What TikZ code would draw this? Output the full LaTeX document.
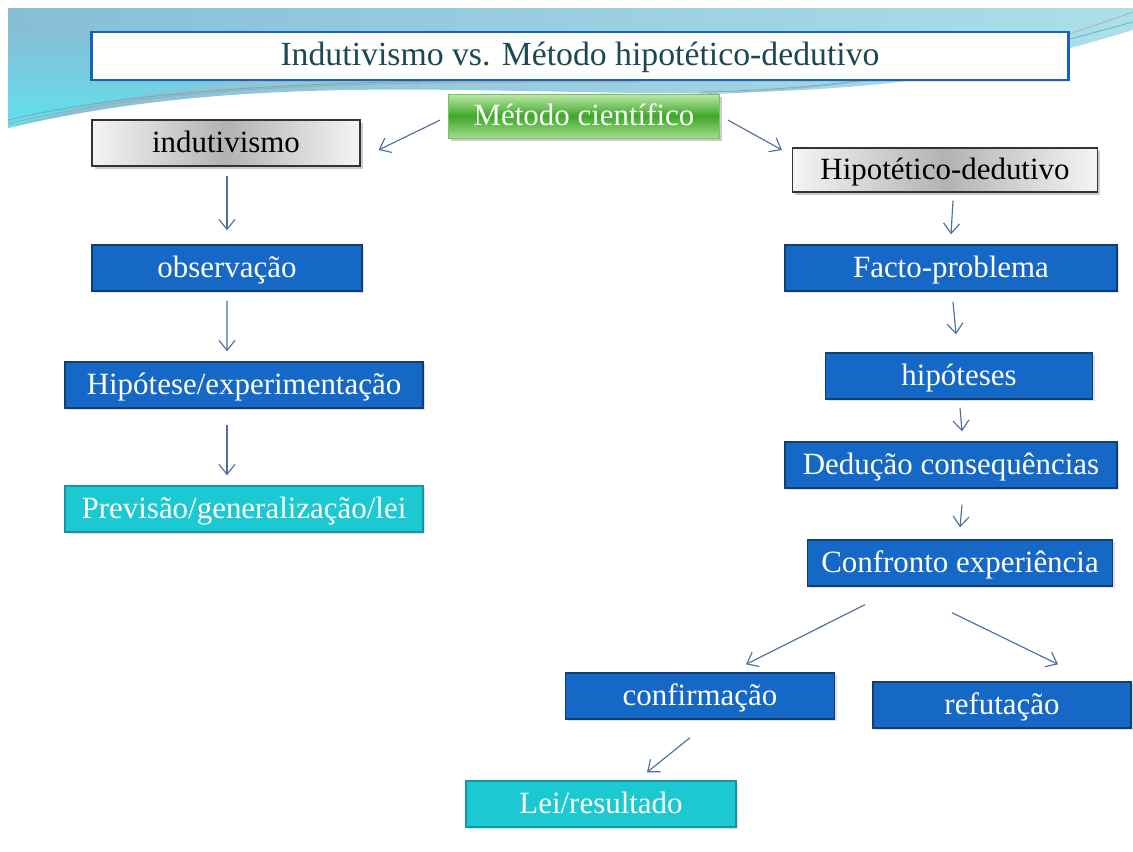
\documentclass[tikz,border=0pt]{standalone}
\usepackage{fontspec}
\setmainfont{Liberation Serif}
\usepackage{tikz}
\usetikzlibrary{arrows.meta,shadows,calc}

\definecolor{azulcaixa}{RGB}{22,104,198}
\definecolor{azulborda}{RGB}{18,62,118}
\definecolor{cianocaixa}{RGB}{28,200,210}
\definecolor{cianoborda}{RGB}{22,150,160}
\definecolor{verdeclaro}{RGB}{190,232,168}
\definecolor{verdeescuro}{RGB}{62,168,42}
\definecolor{tituloborda}{RGB}{20,100,190}
\definecolor{titulotexto}{RGB}{28,72,84}
\definecolor{setacor}{RGB}{74,110,160}
\definecolor{fundoazul}{RGB}{135,190,215}
\definecolor{fundociano}{RGB}{95,225,236}
\definecolor{fundoclaro}{RGB}{170,224,232}

\tikzset{
  caixa/.style={rectangle, minimum height=1.15cm, inner sep=2pt,
    text height=17pt, text depth=4pt,
    font=\fontsize{22}{26}\selectfont},
  azul/.style={caixa, fill=azulcaixa, draw=azulborda, line width=1pt, text=white,
    drop shadow={shadow xshift=1.5pt, shadow yshift=-1.5pt, opacity=0.25}},
  ciano/.style={caixa, fill=cianocaixa, draw=cianoborda, line width=1pt, text=white,
    drop shadow={shadow xshift=1.5pt, shadow yshift=-1.5pt, opacity=0.25}},
  cinza/.style={caixa, draw=black!80, line width=0.8pt, text=black,
    left color=gray!8, right color=gray!8, middle color=gray!60,
    drop shadow={shadow xshift=2pt, shadow yshift=-2pt, opacity=0.4}},
  verde/.style={caixa, minimum width=6.775cm, minimum height=1.1cm, draw=verdeescuro!70,
    top color=verdeclaro, bottom color=verdeclaro!80!verdeescuro, middle color=verdeescuro,
    text=white, drop shadow={shadow xshift=2pt, shadow yshift=-2pt, opacity=0.4}},
  titulo/.style={rectangle, minimum width=24.4cm, minimum height=1.2cm, fill=white,
    draw=tituloborda, line width=2pt, text=titulotexto,
    text height=18pt, text depth=5pt,
    font=\fontsize{24}{28}\selectfont,
    drop shadow={shadow xshift=1.5pt, shadow yshift=-1.5pt, opacity=0.2}},
  seta/.style={draw=setacor, line width=0.8pt, -{Straight Barb[length=0.25cm,width=0.4cm]}}
}

\begin{document}
\begin{tikzpicture}[x=0.025cm, y=-0.025cm]
  \useasboundingbox (0,0) rectangle (1133,851);
  \fill[white] (0,0) rectangle (1133,851);

  % Background swooshes
  \shade[left color=fundoazul, right color=fundoclaro]
    (8,8) -- (1133,8) -- (1133,30) .. controls (1000,70) and (900,95) .. (640,93)
    .. controls (420,90) and (220,78) .. (8,128) -- cycle;
  \shade[top color=fundoazul, bottom color=fundociano]
    (8,30) -- (8,128) .. controls (100,100) and (200,80) .. (300,78) -- (250,30) -- cycle;
  \draw[gray!70, line width=0.6pt] (8,124) .. controls (180,80) and (420,82) .. (640,82);
  \draw[teal!60, line width=0.6pt] (8,120) .. controls (170,82) and (400,80) .. (600,80);
  \draw[gray!60, line width=0.6pt] (600,94) .. controls (850,100) and (1000,60) .. (1133,12);
  \draw[fundoazul!80!teal, line width=0.6pt] (700,92) .. controls (900,88) and (1030,50) .. (1133,22);

  % Title and top level
  \node[titulo] (titulo) at (580,56) {Indutivismo vs. Método hipotético-dedutivo};
  \node[verde] (metodo) at (584,116) {Método científico};
  \node[cinza, minimum width=6.7cm] (indut) at (226,143) {indutivismo};
  \node[cinza, minimum width=7.625cm, minimum height=1.1cm] (hipded) at (945,170) {Hipotético-dedutivo};

  % Left column
  \node[azul, minimum width=6.75cm] (obs) at (227,268) {observação};
  \node[azul, minimum width=8.95cm] (hipexp) at (244,385) {Hipótese/experimentação};
  \node[ciano, minimum width=8.95cm] (prev) at (244,509) {Previsão/generalização/lei};

  % Right column
  \node[azul, minimum width=8.3cm] (facto) at (951,268) {Facto-problema};
  \node[azul, minimum width=6.675cm] (hipot) at (959,376) {hipóteses};
  \node[azul, minimum width=8.3cm] (deduc) at (951,465) {Dedução consequências};
  \node[azul, minimum width=7.625cm] (confr) at (960,563) {Confronto experiência};
  \node[azul, minimum width=6.725cm] (confirm) at (700,696) {confirmação};
  \node[azul, minimum width=6.45cm] (refut) at (1002,705) {refutação};
  \node[ciano, minimum width=6.75cm] (lei) at (601,804) {Lei/resultado};

  % Arrows
  \draw[seta] ([xshift=-0.2cm,yshift=-0.1cm]metodo.west) -- ([xshift=0.45cm,yshift=-0.175cm]indut.east);
  \draw[seta] ([xshift=0.2cm,yshift=-0.1cm]metodo.east) -- ([xshift=-0.25cm,yshift=0.5cm]hipded.west);
  \draw[seta] ([xshift=0.025cm,yshift=-0.225cm]indut.south) -- ([yshift=0.35cm]obs.north);
  \draw[seta] ([yshift=-0.225cm]obs.south) -- ([xshift=-0.425cm,yshift=0.25cm]hipexp.north);
  \draw[seta] ([xshift=-0.425cm,yshift=-0.4cm]hipexp.south) -- ([xshift=-0.425cm,yshift=0.25cm]prev.north);
  \draw[seta] ([xshift=0.2cm,yshift=-0.2cm]hipded.south) -- ([yshift=0.25cm]facto.north);
  \draw[seta] ([xshift=0.05cm,yshift=-0.25cm]facto.south) -- ([xshift=-0.075cm,yshift=0.45cm]hipot.north);
  \draw[seta] ([xshift=0.025cm,yshift=-0.2cm]hipot.south) -- ([xshift=0.275cm,yshift=0.25cm]deduc.north);
  \draw[seta] ([xshift=0.275cm,yshift=-0.4cm]deduc.south) -- ([yshift=0.3cm]confr.north);
  \draw[seta] ([xshift=-2.375cm,yshift=-0.45cm]confr.south) -- ([xshift=1.15cm,yshift=0.2cm]confirm.north);
  \draw[seta] ([xshift=-0.2cm,yshift=-0.65cm]confr.south) -- ([xshift=1.4cm,yshift=0.425cm]refut.north);
  \draw[seta] ([xshift=-0.25cm,yshift=-0.45cm]confirm.south) -- ([xshift=1.15cm,yshift=0.2cm]lei.north);
\end{tikzpicture}
\end{document}
